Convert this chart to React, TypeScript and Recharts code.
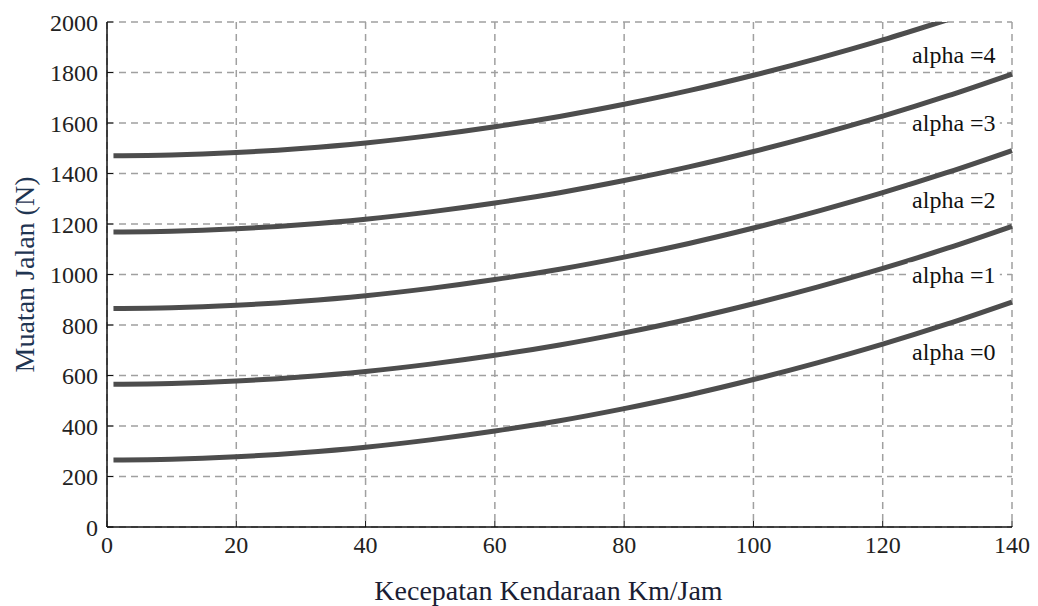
import { LineChart, Line, XAxis, YAxis, CartesianGrid, ReferenceDot } from 'recharts';

// kecepatan (km/jam) and muatan jalan (N)
const speeds = [1, 10, 20, 30, 40, 50, 60, 70, 80, 90, 100, 110, 120, 130, 140];
const alpha0 = [265, 268, 278, 294, 316, 345, 380, 421, 469, 523, 584, 651, 724, 804, 891];
const alpha1 = [565, 568, 578, 594, 616, 645, 680, 721, 769, 823, 884, 951, 1024, 1104, 1191];
const alpha2 = [865, 868, 878, 894, 916, 945, 980, 1021, 1069, 1123, 1184, 1251, 1324, 1404, 1491];
const alpha3 = [1168, 1171, 1181, 1197, 1219, 1248, 1283, 1324, 1372, 1426, 1487, 1554, 1627, 1707, 1794];
const alpha4 = [1470, 1473, 1483, 1499, 1521, 1550, 1585, 1626, 1674, 1728, 1789, 1856, 1929, 2009, null];

const xTicks = [0, 20, 40, 60, 80, 100, 120, 140];
const yTicks = [0, 200, 400, 600, 800, 1000, 1200, 1400, 1600, 1800, 2000];

const curveLabels = [
    { text: 'alpha =4', v: 131, y: 1870 },
    { text: 'alpha =3', v: 131, y: 1600 },
    { text: 'alpha =2', v: 131, y: 1297 },
    { text: 'alpha =1', v: 131, y: 1000 },
    { text: 'alpha =0', v: 131, y: 695 },
];

const data = speeds.map((v, i) => ({
    v,
    a0: alpha0[i],
    a1: alpha1[i],
    a2: alpha2[i],
    a3: alpha3[i],
    a4: alpha4[i],
}));

const serif = 'Liberation Serif, Tinos, DejaVu Serif, serif';
const tickStyle = { fontSize: 24, fill: '#222', style: { fontFamily: serif } };
const lineColor = '#4d4d4d';

const CurveLabel = ({ viewBox, text }: any) => {
    const cx = viewBox.x + viewBox.width / 2;
    const cy = viewBox.y + viewBox.height / 2;
    return (
        <g>
            <rect x={cx - 46} y={cy - 12} width={92} height={24} fill="#fff" />
            <text x={cx} y={cy + 8} textAnchor="middle" fontSize={24} fill="#111" style={{ fontFamily: serif }}>
                {text}
            </text>
        </g>
    );
};

const App = () => {
    return (
        <div style={{ position: 'absolute', left: 0, top: 0, background: '#fff', fontFamily: serif }}>
            <LineChart
                width={1038}
                height={606}
                data={data}
                margin={{ top: 22, right: 26, left: 0, bottom: 0 }}
                style={{ fontFamily: serif }}
            >
                <CartesianGrid stroke="#a0a0a0" strokeWidth={1.5} strokeDasharray="7 5" />
                <XAxis
                    dataKey="v"
                    type="number"
                    domain={[0, 140]}
                    ticks={xTicks}
                    height={79}
                    stroke="#111"
                    axisLine={{ stroke: '#111', strokeWidth: 1.5 }}
                    tickSize={-6}
                    tickMargin={15}
                    tick={tickStyle}
                    label={{
                        value: 'Kecepatan Kendaraan Km/Jam',
                        position: 'insideBottom',
                        offset: 6,
                        dx: -11,
                        style: { fontFamily: serif, fontSize: 28, fill: '#1a1d33' },
                    }}
                />
                <XAxis
                    xAxisId="top"
                    orientation="top"
                    dataKey="v"
                    type="number"
                    domain={[0, 140]}
                    ticks={xTicks}
                    height={0}
                    axisLine={{ stroke: '#111', strokeWidth: 1.5 }}
                    stroke="#111"
                    tickSize={-6}
                    tick={false}
                />
                <YAxis
                    type="number"
                    domain={[0, 2000]}
                    ticks={yTicks}
                    width={107}
                    allowDataOverflow
                    stroke="#111"
                    axisLine={{ stroke: '#111', strokeWidth: 1.5 }}
                    tickSize={-6}
                    tickMargin={15}
                    tick={tickStyle}
                    label={{
                        value: 'Muatan Jalan (N)',
                        angle: -90,
                        position: 'insideLeft',
                        offset: 24,
                        style: { fontFamily: serif, fontSize: 28, fill: '#1f3552', textAnchor: 'middle' },
                    }}
                />
                <YAxis
                    yAxisId="right"
                    orientation="right"
                    type="number"
                    domain={[0, 2000]}
                    ticks={yTicks}
                    width={0}
                    stroke="#111"
                    axisLine={{ stroke: '#111', strokeWidth: 1.5 }}
                    tickSize={-6}
                    tick={false}
                />
                <Line type="monotone" dataKey="a0" stroke={lineColor} strokeWidth={5} dot={false} isAnimationActive={false} />
                <Line type="monotone" dataKey="a1" stroke={lineColor} strokeWidth={5} dot={false} isAnimationActive={false} />
                <Line type="monotone" dataKey="a2" stroke={lineColor} strokeWidth={5} dot={false} isAnimationActive={false} />
                <Line type="monotone" dataKey="a3" stroke={lineColor} strokeWidth={5} dot={false} isAnimationActive={false} />
                <Line type="monotone" dataKey="a4" stroke={lineColor} strokeWidth={5} dot={false} isAnimationActive={false} />
                {curveLabels.map((l) => (
                    <ReferenceDot
                        key={l.text}
                        x={l.v}
                        y={l.y}
                        r={1}
                        fill="none"
                        stroke="none"
                        label={(props: any) => <CurveLabel {...props} text={l.text} />}
                    />
                ))}
            </LineChart>
        </div>
    );
};

export default App;
